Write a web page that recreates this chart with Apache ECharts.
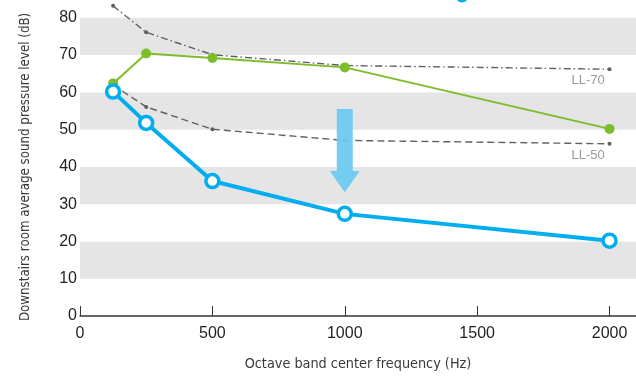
<!DOCTYPE html>
<html><head><meta charset="utf-8">
<script src="https://cdn.jsdelivr.net/npm/echarts@6/dist/echarts.min.js"></script>
<style>html,body{margin:0;padding:0;background:#fff}#c{width:636px;height:376px}</style>
</head><body><div id="c"></div>
<script>
const freqs = [125, 250, 500, 1000, 2000];
const measured = [60.2, 51.8, 36.2, 27.4, 20.2];
const reference = [62.4, 70.4, 69.2, 66.7, 50.2];
const ll70 = [83.2, 76.1, 70.1, 67.2, 66.2];
const ll50 = [62.0, 56.1, 50.1, 47.1, 46.2];
const xTicks = [0, 500, 1000, 1500, 2000];
const yTicks = [0, 10, 20, 30, 40, 50, 60, 70, 80];
const arrowX = 1000, arrowTop = 55.5, arrowHeadBase = 38.9, arrowTip = 33.2;

const pair = a => freqs.map((f, i) => [f, a[i]]);
const narrow = '"Liberation Sans Narrow", "DejaVu Sans Condensed", sans-serif';
const chart = echarts.init(document.getElementById('c'));
const grayLine = '#5f6062';
function llSeries(name, vals, dash) {
  const d = pair(vals);
  d[d.length - 1] = {value: d[d.length - 1], label: {show: true, formatter: name, position: [-36, 7], color: '#9a9a9a', fontSize: 13, fontFamily: 'Liberation Sans, Arial, sans-serif'}};
  return {name, type: 'line', data: d, clip: false, symbol: 'circle', symbolSize: 4,
    itemStyle: {color: grayLine}, lineStyle: {color: grayLine, width: 1.4, type: dash}, z: 2};
}
chart.setOption({
  animation: false,
  grid: {left: 80, right: 0, top: 17.8, bottom: 56.6},
  xAxis: {type: 'value', min: 0, max: 2100, interval: 500,
    name: 'Octave band center frequency (Hz)', nameLocation: 'middle', nameGap: 41,
    nameTextStyle: {fontFamily: narrow, fontSize: 14.3, color: '#3a3a3a'},
    axisLine: {show: true, lineStyle: {color: '#3a3536', width: 1.5}},
    axisTick: {show: true, inside: true, length: 10, customValues: xTicks, lineStyle: {color: '#3a3536', width: 1}},
    axisLabel: {customValues: xTicks, margin: 10, fontSize: 16, color: '#231f20', fontFamily: 'Liberation Sans, Arial, sans-serif',
      formatter: v => String(v)},
    splitLine: {show: false}},
  yAxis: {type: 'value', min: 0, max: 80, interval: 10,
    name: 'Downstairs room average sound pressure level (dB)', nameLocation: 'middle', nameGap: 48,
    nameTextStyle: {fontFamily: narrow, fontSize: 13.2, color: '#3a3a3a'},
    axisLine: {show: false}, axisTick: {show: false},
    axisLabel: {customValues: yTicks, margin: 3, fontSize: 16, color: '#231f20', fontFamily: 'Liberation Sans, Arial, sans-serif'},
    splitLine: {show: false},
    splitArea: {show: true, areaStyle: {color: ['#ffffff', '#e5e5e5']}}},
  series: [
    llSeries('LL-70', ll70, [7, 3, 1.5, 3]),
    llSeries('LL-50', ll50, [7, 4]),
    {name: 'Reference', type: 'line', data: pair(reference), symbol: 'circle', symbolSize: 10,
      itemStyle: {color: '#7dbd2c'}, lineStyle: {color: '#7dbd2c', width: 2}, z: 3},
    {name: 'Measured', type: 'line', data: pair(measured), symbol: 'circle', symbolSize: 13,
      itemStyle: {color: '#ffffff', borderColor: '#00aeef', borderWidth: 3.5},
      lineStyle: {color: '#00aeef', width: 4}, z: 5}
  ]
});
const p0 = chart.convertToPixel({gridIndex: 0}, [arrowX, arrowTop]);
const p1 = chart.convertToPixel({gridIndex: 0}, [arrowX, arrowHeadBase]);
const p2 = chart.convertToPixel({gridIndex: 0}, [arrowX, arrowTip]);
const cx = p0[0], sw = 8, hw = 15;
chart.setOption({graphic: [
  {type: 'polygon', z: 4, shape: {points: [[cx - sw, p0[1]], [cx + sw, p0[1]], [cx + sw, p1[1]], [cx + hw, p1[1]], [cx, p2[1]], [cx - hw, p1[1]], [cx - sw, p1[1]]]},
    style: {fill: '#6ecbf0', opacity: 0.95}},
  {type: 'circle', z: 6, shape: {cx: 462, cy: -4, r: 6.5}, style: {fill: '#00aeef'}}
]});
</script></body></html>
